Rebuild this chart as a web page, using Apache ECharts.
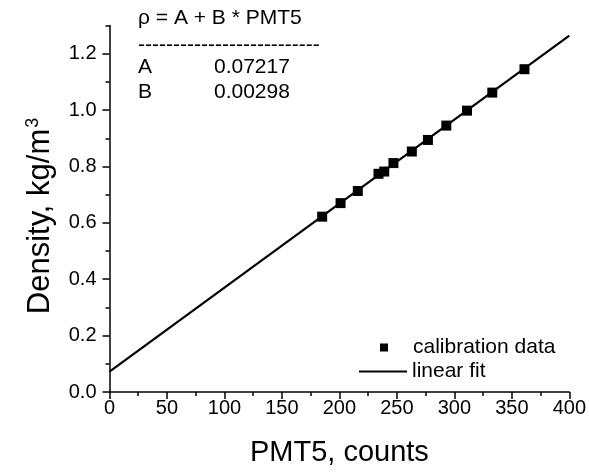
<!DOCTYPE html>
<html>
<head>
<meta charset="utf-8">
<script src="https://cdn.jsdelivr.net/npm/echarts@6/dist/echarts.min.js"></script>
<style>
  html, body { margin: 0; padding: 0; background: #fff; }
  #chart { width: 589px; height: 472px; }
</style>
</head>
<body>
<div id="chart"></div>
<script>
// Calibration measurements: PMT5 counts vs. density
var pmtCounts = [185, 201, 216, 234, 239, 247, 263, 277, 293, 311, 333, 361];
var densities = [0.622, 0.670, 0.713, 0.774, 0.782, 0.812, 0.853, 0.894, 0.945, 0.998, 1.062, 1.145];

// Linear fit coefficients: rho = A + B * PMT5
var fitA = 0.07217;
var fitB = 0.00298;
var fitRange = [0, 400];

// Axis ticks
var xTicks = [0, 50, 100, 150, 200, 250, 300, 350, 400];
var yMajorTicks = [0, 0.2, 0.4, 0.6, 0.8, 1.0, 1.2];
var yMinorTicks = [0.1, 0.3, 0.5, 0.7, 0.9, 1.1, 1.3];

var FONT = '"Liberation Sans", Arial, sans-serif';

var scatterData = pmtCounts.map(function (x, i) { return [x, densities[i]]; });
var fitData = fitRange.map(function (x) { return [x, fitA + fitB * x]; });

var chart = echarts.init(document.getElementById('chart'), null, { renderer: 'canvas' });

chart.setOption({
  backgroundColor: '#ffffff',
  animation: false,
  textStyle: { fontFamily: FONT, color: '#000' },
  grid: { left: 109.5, right: 18.3, top: 25.5, bottom: 74, containLabel: false },
  xAxis: {
    type: 'value',
    min: xTicks[0],
    max: xTicks[xTicks.length - 1],
    interval: 50,
    name: 'PMT5, counts',
    nameLocation: 'middle',
    nameGap: 46,
    nameTextStyle: { fontFamily: FONT, fontSize: 29, color: '#000' },
    axisLine: { show: true, lineStyle: { color: '#000', width: 1.5 } },
    axisTick: { show: true, inside: false, length: 7, lineStyle: { color: '#000', width: 1.5 } },
    minorTick: { show: true, splitNumber: 2, length: 4, lineStyle: { color: '#000', width: 1.5 } },
    axisLabel: { margin: 6, fontFamily: FONT, fontSize: 20, color: '#000' },
    splitLine: { show: false }
  },
  yAxis: [
    {
      type: 'value',
      min: 0,
      max: 1.3,
      interval: 0.2,
      position: 'left',
      axisLine: { show: true, lineStyle: { color: '#000', width: 1.5 } },
      axisTick: { show: true, inside: false, length: 7, customValues: yMajorTicks, lineStyle: { color: '#000', width: 1.5 } },
      axisLabel: {
        margin: 13, fontFamily: FONT, fontSize: 20, color: '#000',
        customValues: yMajorTicks,
        formatter: function (v) { return v.toFixed(1); }
      },
      splitLine: { show: false }
    },
    {
      type: 'value',
      min: 0,
      max: 1.3,
      position: 'left',
      offset: 0,
      axisLine: { show: false },
      axisTick: { show: true, inside: false, length: 4, customValues: yMinorTicks, lineStyle: { color: '#000', width: 1.5 } },
      axisLabel: { show: false },
      splitLine: { show: false }
    }
  ],
  legend: [
    {
      data: ['calibration data'],
      left: 380, top: 337,
      padding: 0,
      orient: 'vertical',
      icon: 'rect',
      itemWidth: 8, itemHeight: 8,
      textStyle: { fontFamily: FONT, fontSize: 21, color: '#000', padding: [0, 0, 0, 20] }
    },
    {
      data: ['linear fit'],
      left: 359, top: 361,
      padding: 0,
      orient: 'vertical',
      icon: 'rect',
      itemWidth: 48, itemHeight: 2.2,
      textStyle: { fontFamily: FONT, fontSize: 21, color: '#000' }
    }
  ],
  graphic: [
    // y-axis title, rotated to read bottom-to-top
    {
      type: 'text', x: 40, y: 216, rotation: Math.PI / 2,
      style: {
        text: 'Density, kg/m{sup|3}',
        font: '31px ' + FONT, fill: '#000',
        align: 'center', verticalAlign: 'middle',
        rich: {
          sup: { font: '18px ' + FONT, fill: '#000', verticalAlign: 'top', padding: [0, 0, 14, 1] }
        }
      }
    },
    // fit summary block
    { type: 'text', left: 138, top: 8, style: { text: 'ρ = A + B * PMT5', font: '21px ' + FONT, fill: '#000' } },
    { type: 'text', left: 138, top: 35, style: { text: '--------------------------', font: '21px ' + FONT, fill: '#000' } },
    { type: 'text', left: 138, top: 57, style: { text: 'A', font: '21px ' + FONT, fill: '#000' } },
    { type: 'text', left: 214, top: 57, style: { text: fitA.toFixed(5), font: '21px ' + FONT, fill: '#000' } },
    { type: 'text', left: 138, top: 82, style: { text: 'B', font: '21px ' + FONT, fill: '#000' } },
    { type: 'text', left: 214, top: 82, style: { text: fitB.toFixed(5), font: '21px ' + FONT, fill: '#000' } }
  ],
  series: [
    {
      name: 'linear fit',
      type: 'line',
      data: fitData,
      showSymbol: false,
      symbol: 'none',
      lineStyle: { color: '#000', width: 2.2 },
      itemStyle: { color: '#000' },
      z: 2
    },
    {
      name: 'calibration data',
      type: 'scatter',
      data: scatterData,
      symbol: 'rect',
      symbolSize: 10,
      itemStyle: { color: '#000', opacity: 1 },
      z: 3
    }
  ]
});
</script>
</body>
</html>
